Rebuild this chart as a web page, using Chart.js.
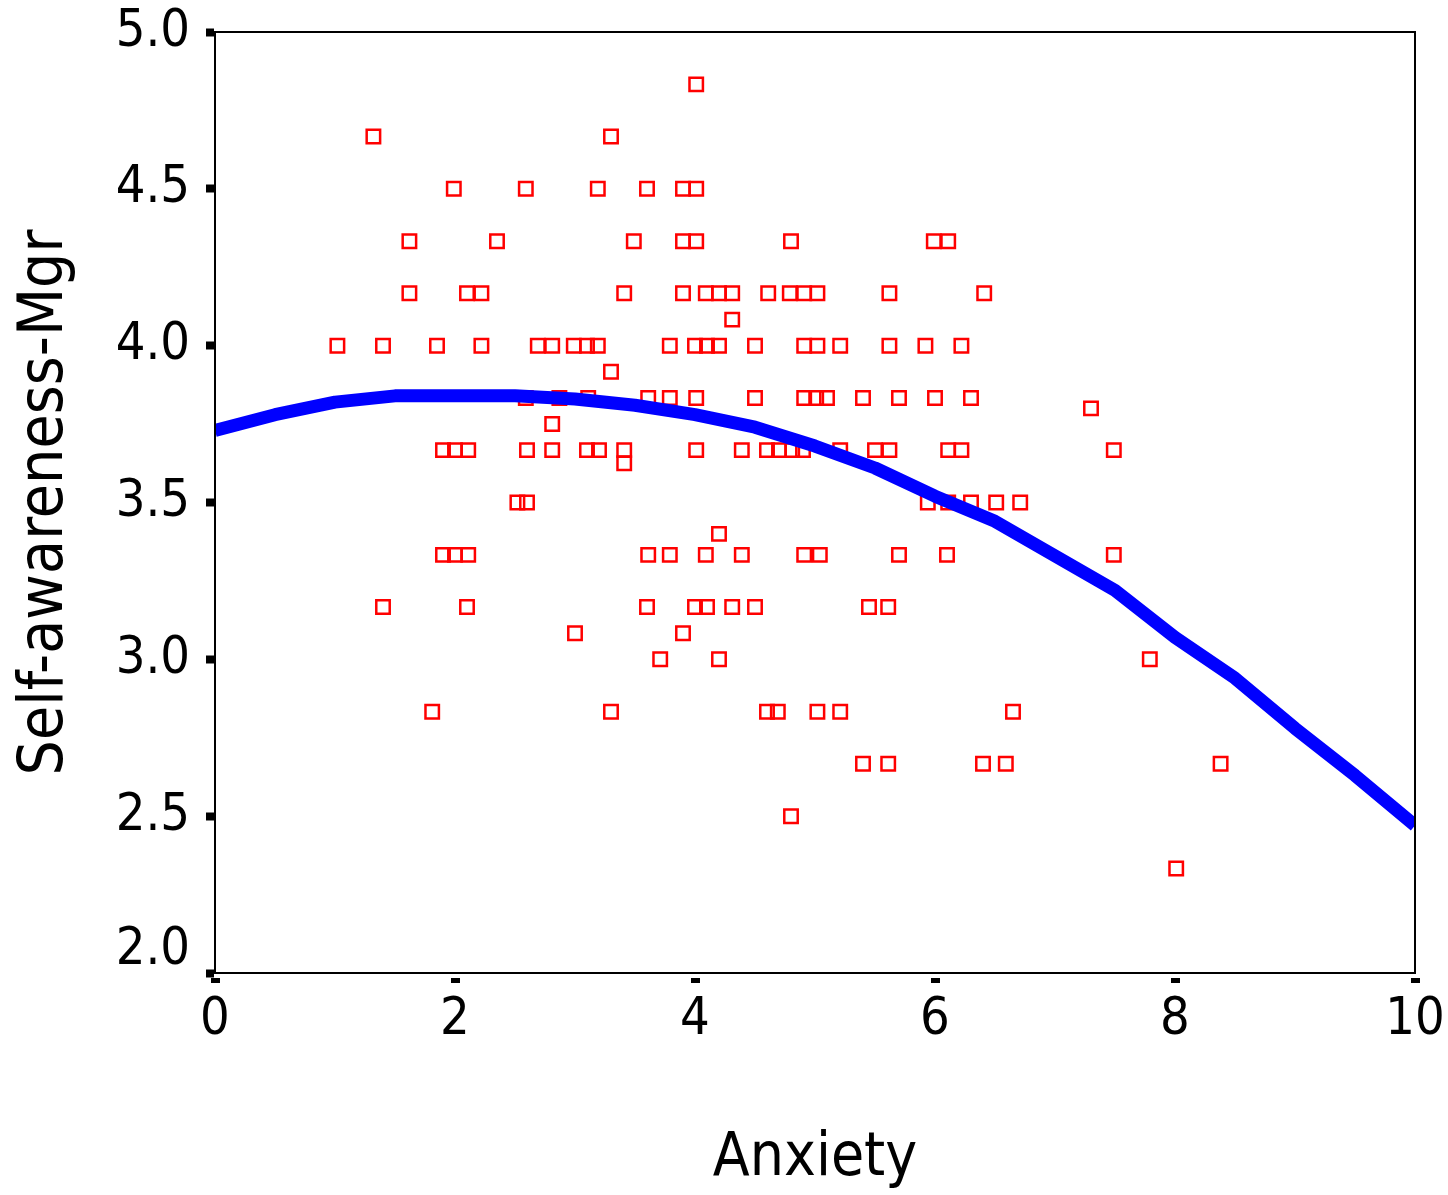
<!DOCTYPE html>
<html>
<head>
<meta charset="utf-8">
<script src="https://cdn.jsdelivr.net/npm/chart.js@4"></script>
<style>
  html, body { margin: 0; padding: 0; background: #fff; }
  canvas { display: block; }
</style>
</head>
<body>
<canvas id="scatterChart" width="1448" height="1195"></canvas>
<script>
// observed cases, one row of the plot per line
const anxiety = [
  4.01,
  1.32, 3.30,
  1.99, 2.59, 3.19, 3.60, 3.90, 4.01,
  1.62, 2.35, 3.49, 3.90, 4.01, 4.80, 5.99, 6.11,
  1.62, 2.10, 2.22, 3.41, 3.90, 4.09, 4.20, 4.31, 4.61, 4.79, 4.91, 5.02, 5.62, 6.41,
  4.31,
  1.02, 1.40, 1.85, 2.22, 2.69, 2.81, 2.99, 3.10, 3.19, 3.79, 4.00, 4.10, 4.20, 4.50, 4.91, 5.02, 5.21, 5.62, 5.92, 6.22,
  3.30,
  2.59, 2.87, 3.11, 3.61, 3.79, 4.01, 4.50, 4.91, 5.01, 5.10, 5.40, 5.70, 6.00, 6.30,
  7.30,
  2.81,
  1.90, 2.00, 2.11, 2.60, 2.81, 3.10, 3.20, 3.41, 4.01, 4.39, 4.60, 4.70, 4.81, 4.90, 5.21, 5.50, 5.62, 6.11, 6.22, 7.49,
  3.41,
  2.52, 2.60, 5.94, 6.11, 6.30, 6.51, 6.71,
  4.20,
  1.90, 2.00, 2.11, 3.61, 3.79, 4.09, 4.39, 4.91, 5.04, 5.70, 6.10, 7.49,
  1.40, 2.10, 3.60, 4.00, 4.10, 4.31, 4.50, 5.45, 5.61,
  3.00, 3.90,
  3.71, 4.20, 7.79,
  1.81, 3.30, 4.60, 4.69, 5.02, 5.21, 6.65,
  5.40, 5.61, 6.40, 6.59, 8.38,
  4.80,
  8.01
];
const selfAwareness = [
  4.833,
  4.667, 4.667,
  4.5, 4.5, 4.5, 4.5, 4.5, 4.5,
  4.333, 4.333, 4.333, 4.333, 4.333, 4.333, 4.333, 4.333,
  4.167, 4.167, 4.167, 4.167, 4.167, 4.167, 4.167, 4.167, 4.167, 4.167, 4.167, 4.167, 4.167, 4.167,
  4.083,
  4.0, 4.0, 4.0, 4.0, 4.0, 4.0, 4.0, 4.0, 4.0, 4.0, 4.0, 4.0, 4.0, 4.0, 4.0, 4.0, 4.0, 4.0, 4.0, 4.0,
  3.917,
  3.833, 3.833, 3.833, 3.833, 3.833, 3.833, 3.833, 3.833, 3.833, 3.833, 3.833, 3.833, 3.833, 3.833,
  3.8,
  3.75,
  3.667, 3.667, 3.667, 3.667, 3.667, 3.667, 3.667, 3.667, 3.667, 3.667, 3.667, 3.667, 3.667, 3.667, 3.667, 3.667, 3.667, 3.667, 3.667, 3.667,
  3.625,
  3.5, 3.5, 3.5, 3.5, 3.5, 3.5, 3.5,
  3.4,
  3.333, 3.333, 3.333, 3.333, 3.333, 3.333, 3.333, 3.333, 3.333, 3.333, 3.333, 3.333,
  3.167, 3.167, 3.167, 3.167, 3.167, 3.167, 3.167, 3.167, 3.167,
  3.083, 3.083,
  3.0, 3.0, 3.0,
  2.833, 2.833, 2.833, 2.833, 2.833, 2.833, 2.833,
  2.667, 2.667, 2.667, 2.667, 2.667,
  2.5,
  2.333
];

// quadratic fit line
const fitAnxiety = [0, 0.5, 1, 1.5, 2, 2.5, 3, 3.5, 4, 4.5, 5, 5.5, 6, 6.5, 7, 7.5, 8, 8.5, 9, 9.5, 10];
const fitAwareness = [3.73, 3.78, 3.82, 3.84, 3.84, 3.84, 3.83, 3.81, 3.78, 3.74, 3.68, 3.61, 3.52, 3.44, 3.33, 3.22, 3.07, 2.94, 2.78, 2.63, 2.47];

const xTickValues = [0, 2, 4, 6, 8, 10];
const xTickLabels = ['0', '2', '4', '6', '8', '10'];
const yTickValues = [2.0, 2.5, 3.0, 3.5, 4.0, 4.5, 5.0];
const yTickLabels = ['2.0', '2.5', '3.0', '3.5', '4.0', '4.5', '5.0'];

const FONT = "'DejaVu Sans Condensed', 'DejaVu Sans', sans-serif";

const points = anxiety.map((x, i) => ({ x: x, y: selfAwareness[i] }));
const fitLine = fitAnxiety.map((x, i) => ({ x: x, y: fitAwareness[i] }));

const frame = {
  id: 'frame',
  afterDraw(chart) {
    const { ctx, chartArea: a } = chart;
    ctx.save();
    ctx.strokeStyle = '#000';
    ctx.lineWidth = 2;
    ctx.strokeRect(a.left, a.top, a.right - a.left, a.bottom - a.top);
    ctx.restore();
  }
};

new Chart(document.getElementById('scatterChart'), {
  type: 'scatter',
  data: {
    datasets: [{
      type: 'line',
      data: fitLine,
      borderColor: '#0000ff',
      borderWidth: 13,
      borderCapStyle: 'butt',
      borderJoinStyle: 'round',
      pointRadius: 0,
      fill: false,
      tension: 0
    }, {
      data: points,
      pointStyle: 'rect',
      pointRadius: 9.5,
      pointBorderWidth: 2.5,
      pointBorderColor: '#ff0000',
      pointBackgroundColor: 'rgba(0,0,0,0)'
    }]
  },
  options: {
    responsive: false,
    animation: false,
    devicePixelRatio: 1,
    layout: { padding: { top: 32, right: 33, left: 0, bottom: 0 } },
    plugins: {
      legend: { display: false },
      tooltip: { enabled: false }
    },
    scales: {
      x: {
        type: 'linear',
        min: 0,
        max: 10,
        afterBuildTicks: (s) => { s.ticks = xTickValues.map(v => ({ value: v })); },
        afterFit: (s) => {
          s.height = 222;
          s.paddingLeft = 0;
          s.paddingRight = 0;
        },
        ticks: {
          callback: (v, i) => xTickLabels[i],
          color: '#000',
          padding: 6,
          maxRotation: 0,
          font: { family: FONT, size: 52 }
        },
        grid: {
          drawOnChartArea: false,
          tickLength: 10,
          tickWidth: 9,
          tickColor: '#000',
          tickBorderDash: [0, 4, 6, 100]
        },
        border: { display: true, color: '#000', width: 2 },
        title: {
          display: true,
          text: 'Anxiety',
          color: '#000',
          padding: { top: 0, bottom: 6 },
          font: { family: FONT, size: 60, lineHeight: 1 }
        }
      },
      y: {
        type: 'linear',
        min: 2,
        max: 5,
        afterBuildTicks: (s) => { s.ticks = yTickValues.map(v => ({ value: v })); },
        afterFit: (s) => {
          s.width = 215;
          s.paddingTop = 0;
          s.paddingBottom = 0;
        },
        ticks: {
          // bottom label sits a little higher than its tick
          callback: (v, i) => (i === 0 ? [yTickLabels[i], ''] : yTickLabels[i]),
          color: '#000',
          padding: 16,
          font: { family: FONT, size: 52, lineHeight: 0.85 }
        },
        grid: {
          drawOnChartArea: false,
          tickLength: 9,
          tickWidth: 8,
          tickColor: '#000'
        },
        border: { display: true, color: '#000', width: 2 },
        title: {
          display: true,
          text: 'Self-awareness-Mgr',
          color: '#000',
          padding: { top: 15, bottom: 0 },
          font: { family: FONT, size: 62, lineHeight: 1 }
        }
      }
    }
  },
  plugins: [frame]
});
</script>
</body>
</html>
